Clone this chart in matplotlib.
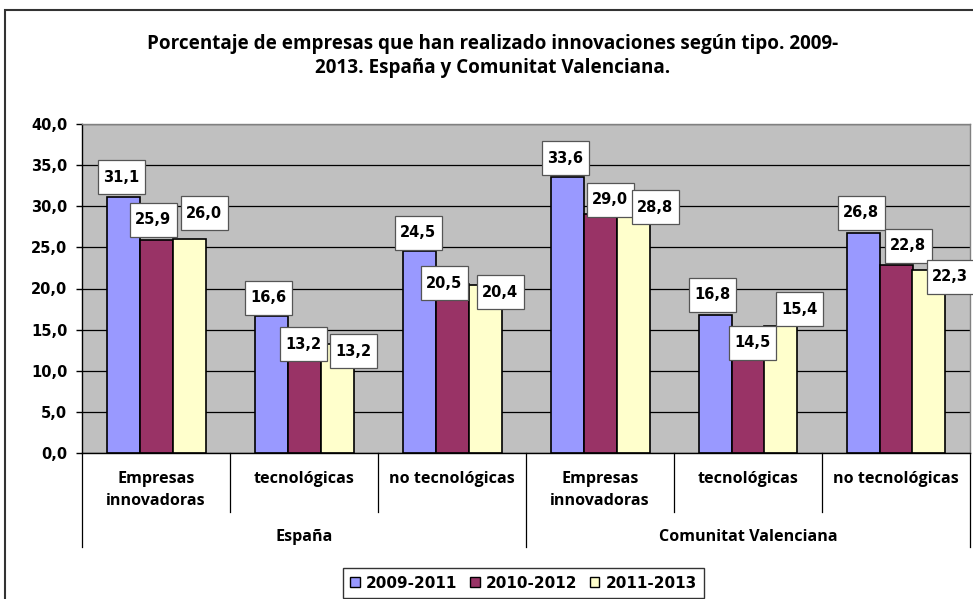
import matplotlib
matplotlib.use("Agg")
import matplotlib.pyplot as plt
import numpy as np
from matplotlib.patches import Patch, Rectangle
from matplotlib.path import Path
from matplotlib.transforms import IdentityTransform, blended_transform_factory

# ---------------- data ----------------
groups = ["España", "Comunitat Valenciana"]
categories = ["Empresas\ninnovadoras", "tecnológicas", "no tecnológicas",
              "Empresas\ninnovadoras", "tecnológicas", "no tecnológicas"]
series_labels = ["2009-2011", "2010-2012", "2011-2013"]
v2009_2011 = [31.1, 16.6, 24.5, 33.6, 16.8, 26.8]
v2010_2012 = [25.9, 13.2, 20.5, 29.0, 14.5, 22.8]
v2011_2013 = [26.0, 13.2, 20.4, 28.8, 15.4, 22.3]
yticks = [0, 5, 10, 15, 20, 25, 30, 35, 40]

# ---------------- styles ----------------
colors = ["#9999FF", "#993366", "#FFFFCC"]
# label offsets (pixels, x right / y up) relative to bar top centre
label_offsets = [
    [(-2, 20), (-3, 18.5), (-1, 18.5), (-2, 18.6), (-3, 20), (-2, 20)],
    [(-3, 20), (-1, 0), (-8, 1), (10, 14.5), (4, -9), (12, 19.5)],
    [(15, 26), (16, -7), (15, -7), (22, 9), (18, 17), (21, -7)],
]

W, H = 973, 599
fig = plt.figure(figsize=(W / 100, H / 100), dpi=100)
fig.patch.set_facecolor("white")

ax_l, ax_r, ax_t, ax_b = 82, 970, 124, 453
ax = fig.add_axes([ax_l / W, (H - ax_b) / H, (ax_r - ax_l) / W, (ax_b - ax_t) / H])
ax.set_facecolor("#C0C0C0")

series = [v2009_2011, v2010_2012, v2011_2013]
n = len(categories)
x = np.arange(n)
bw = 33 / 148

for i, (vals, col) in enumerate(zip(series, colors)):
    ax.bar(x + (i - 1) * bw, vals, width=bw, color=col, edgecolor="black",
           linewidth=1.2, zorder=2)


def fixed_box(x0, y0, width, height, mutation_size):
    cx = x0 + width / 2
    cy = y0 + height / 2
    w, h = 47, 34
    verts = [(cx - w / 2, cy - h / 2), (cx + w / 2, cy - h / 2),
             (cx + w / 2, cy + h / 2), (cx - w / 2, cy + h / 2),
             (cx - w / 2, cy - h / 2)]
    return Path(verts, [Path.MOVETO, Path.LINETO, Path.LINETO, Path.LINETO, Path.CLOSEPOLY])


for i, vals in enumerate(series):
    for j, v in enumerate(vals):
        dx, dy = label_offsets[i][j]
        ax.annotate(f"{v:.1f}".replace(".", ","), xy=(x[j] + (i - 1) * bw, v),
                    xytext=(dx, dy), textcoords="offset pixels",
                    ha="center", va="center", fontsize=10.5, fontweight="bold",
                    family="DejaVu Sans", zorder=5, annotation_clip=False,
                    bbox=dict(boxstyle=fixed_box, facecolor="white",
                              edgecolor="#555555", linewidth=0.9))

ax.set_xlim(-0.5, n - 0.5)
ax.set_ylim(0, 40)
ax.set_yticks(yticks)
ax.set_yticklabels([f"{t:.1f}".replace(".", ",") for t in yticks],
                   fontsize=10.5, fontweight="bold", family="DejaVu Sans")
ax.tick_params(axis="y", direction="out", length=4.5, width=1, pad=6, colors="black")
ax.set_xticks([])
ax.yaxis.grid(True, color="black", linewidth=0.9)
ax.set_axisbelow(True)
for s in ["top", "right"]:
    ax.spines[s].set_color("#808080")
    ax.spines[s].set_linewidth(1)
ax.spines["left"].set_color("black")
ax.spines["bottom"].set_color("black")
ax.spines["left"].set_linewidth(1)
ax.spines["bottom"].set_linewidth(1)

# multi-level category axis
trans = blended_transform_factory(ax.transData, ax.transAxes)
axh = ax_b - ax_t
short_y = -(512 - ax_b) / axh
long_y = -(547 - ax_b) / axh
for k in range(n + 1):
    b = k - 0.5
    yend = long_y if k % 3 == 0 else short_y
    ax.plot([b, b], [0, yend], transform=trans, color="black", lw=0.9,
            clip_on=False, zorder=1)

cat_font = "Open Sans"
for j, c in enumerate(categories):
    ax.text(x[j], -(471 - ax_b) / axh, c, transform=trans, ha="center", va="top",
            fontsize=11.6, fontweight="bold", family=cat_font, linespacing=1.5)
for g, name in enumerate(groups):
    ax.text(g * 3 + 1, -(537 - ax_b) / axh, name, transform=trans, ha="center",
            va="center", fontsize=11.6, fontweight="bold", family=cat_font)

# title
fig.text(493 / W, 1 - 44 / H, "Porcentaje de empresas que han realizado innovaciones según tipo. 2009-",
         ha="center", va="center", fontsize=13.6, fontweight="bold", family=cat_font)
fig.text(493 / W, 1 - 68 / H, "2013. España y Comunitat Valenciana.",
         ha="center", va="center", fontsize=13.6, fontweight="bold", family=cat_font)

# outer border
fig.patches.append(Rectangle((5, -20), 1100, H - 10 + 20, transform=IdentityTransform(),
                             fill=False, edgecolor="#333333", linewidth=1.5))

# legend
handles = [Patch(facecolor=c, edgecolor="black", linewidth=1) for c in colors]
leg = fig.legend(handles, series_labels, loc="upper center",
                 bbox_to_anchor=(523.5 / W, 1 - 568 / H), ncol=3, frameon=True,
                 fancybox=False, edgecolor="black",
                 prop=dict(family="DejaVu Sans", weight="bold", size=11),
                 handlelength=0.65, handleheight=0.65, handletextpad=0.4,
                 columnspacing=0.8, borderpad=0.5, borderaxespad=0)
leg.get_frame().set_linewidth(1)

fig.savefig("out.png", dpi=100)
